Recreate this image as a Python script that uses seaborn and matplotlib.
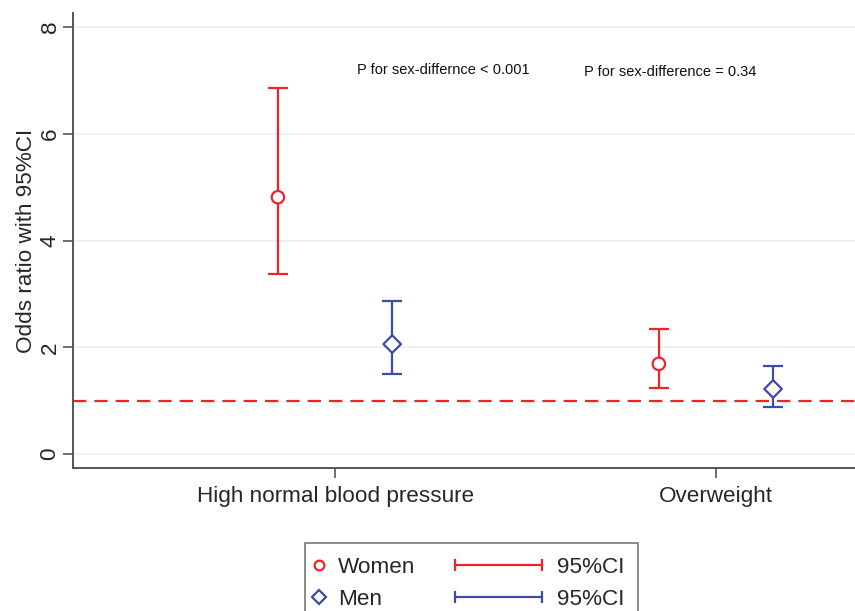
import matplotlib
matplotlib.use("Agg")
import matplotlib.pyplot as plt
from matplotlib.lines import Line2D
from matplotlib.legend_handler import HandlerBase
import seaborn as sns
import pandas as pd

categories = ["High normal blood pressure", "Overweight"]
groups = ["Women", "Men"]
women_or = [4.81, 1.69]
women_lo = [3.38, 1.24]
women_hi = [6.85, 2.34]
men_or = [2.06, 1.22]
men_lo = [1.50, 0.88]
men_hi = [2.87, 1.65]
p_texts = ["P for sex-differnce < 0.001", "P for sex-difference = 0.34"]

RED = "#f2222b"
BLUE = "#3d4ba6"

sns.set_theme(style="white")
plt.rcParams["font.family"] = ["Liberation Sans", "DejaVu Sans"]

fig = plt.figure(figsize=(8.55, 6.11), dpi=100)
ax = fig.add_axes([73/855, 1-468/611, 1-73/855, (468-13)/611])

offset = 0.15
rows = []
for i, c in enumerate(categories):
    rows.append(dict(x=i - offset, OR=women_or[i], lo=women_lo[i], hi=women_hi[i], sex="Women"))
    rows.append(dict(x=i + offset, OR=men_or[i], lo=men_lo[i], hi=men_hi[i], sex="Men"))
df = pd.DataFrame(rows)

colors = {"Women": RED, "Men": BLUE}
markers = {"Women": "o", "Men": "D"}

# grid
for yv in [0, 2, 4, 6, 8]:
    ax.axhline(yv, color="#e8eff2", lw=1.2, zorder=0)

# reference line
ax.axhline(1, color=RED, lw=1.6, ls=(0, (6, 3.6)), zorder=1)

for sex in groups:
    d = df[df.sex == sex]
    ax.errorbar(d["x"].to_numpy(), d["OR"].to_numpy(),
                yerr=[(d["OR"] - d["lo"]).to_numpy(), (d["hi"] - d["OR"]).to_numpy()],
                fmt="none", ecolor=colors[sex], elinewidth=1.6, capsize=7,
                capthick=1.6, zorder=2)

n_before = len(ax.collections)
sns.scatterplot(data=df, x="x", y="OR", hue="sex", style="sex",
                palette=colors, markers=markers, s=80,
                linewidth=1.6, legend=False, ax=ax, zorder=3)
for coll in ax.collections[n_before:]:
    fc = coll.get_facecolors()
    coll.set_edgecolors(fc)
    coll.set_facecolor("white")

ax.set_xlim(-0.688, 1.365)
ax.set_ylim(-0.26, 8.26)
ax.set_xticks(range(len(categories)))
ax.set_xticklabels(categories, fontsize=16.2)
ax.set_yticks([0, 2, 4, 6, 8])
ax.set_yticklabels(["0", "2", "4", "6", "8"], fontsize=16.2, rotation=90, va="center")
ax.set_xlabel("")
ax.set_ylabel("Odds ratio with 95%CI", fontsize=16.2, labelpad=1.5)
ax.tick_params(axis="both", direction="out", length=7, width=1.2, color="#555555",
               bottom=True, left=True)
ax.tick_params(axis="y", pad=2)
ax.tick_params(axis="x", pad=6)
for s in ["top", "right"]:
    ax.spines[s].set_visible(False)
for s in ["left", "bottom"]:
    ax.spines[s].set_color("#555555")
    ax.spines[s].set_linewidth(1.4)

ax.text(0.058, 7.19, p_texts[0], fontsize=10.5, va="center", ha="left", color="#111111")
ax.text(0.654, 7.15, p_texts[1], fontsize=10.5, va="center", ha="left", color="#111111")


class CIHandler(HandlerBase):
    """Horizontal CI bar with end caps, extending to the left of the handle box."""
    def __init__(self, length=62.6, right_gap=5.0, **kw):
        super().__init__(**kw)
        self.length = length
        self.right_gap = right_gap

    def create_artists(self, legend, orig_handle, xdescent, ydescent, width, height,
                       fontsize, trans):
        color = orig_handle.get_color()
        y = height / 2 - ydescent
        x1 = -xdescent + width - self.right_gap
        x0 = x1 - self.length
        line = Line2D([x0, x1], [y, y], color=color, lw=1.6)
        caps = Line2D([x0, x1], [y, y], ls="none", marker="|", ms=9, mew=1.6, color=color)
        for a in (line, caps):
            a.set_transform(trans)
        return [line, caps]


class MarkerHandler(HandlerBase):
    """Single marker placed at the left of the handle box."""
    def __init__(self, xpos=0.2, **kw):
        super().__init__(**kw)
        self.xpos = xpos

    def create_artists(self, legend, orig_handle, xdescent, ydescent, width, height,
                       fontsize, trans):
        y = height / 2 - ydescent
        m = Line2D([-xdescent + self.xpos], [y], ls="none",
                   marker=orig_handle.get_marker(), mfc="none",
                   mec=orig_handle.get_markeredgecolor(),
                   mew=orig_handle.get_markeredgewidth(),
                   ms=orig_handle.get_markersize())
        m.set_transform(trans)
        return [m]


h_w = Line2D([], [], ls="none", marker="o", mfc="none", mec=RED, mew=1.6, ms=7)
h_m = Line2D([], [], ls="none", marker="D", mfc="none", mec=BLUE, mew=1.6, ms=7.6)
l_w = Line2D([], [], color=RED)
l_m = Line2D([], [], color=BLUE)
ci_handler = CIHandler()
mk_handler = MarkerHandler()
leg = fig.legend([h_w, h_m, l_w, l_m], ["Women", "Men", "95%CI", "95%CI"],
                 ncol=2, loc="upper left", bbox_to_anchor=(305/855, 1-543/611),
                 fontsize=16.2, frameon=True, fancybox=False, edgecolor="#555555",
                 handlelength=0.5, handletextpad=0.36, columnspacing=5.42,
                 labelspacing=0.5, borderpad=0.62, borderaxespad=0,
                 handler_map={l_w: ci_handler, l_m: ci_handler,
                              h_w: mk_handler, h_m: mk_handler})
leg.get_frame().set_linewidth(1.2)

fig.savefig("out.png", dpi=100)
